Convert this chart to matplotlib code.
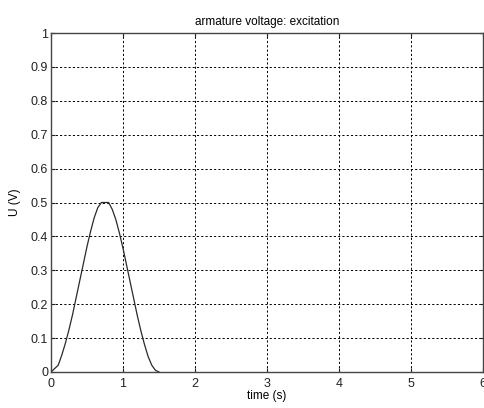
import matplotlib
matplotlib.use("Agg")
import matplotlib.pyplot as plt

# sampled excitation pulse on the armature
time_s = [0.0, 0.1, 0.15, 0.2, 0.25, 0.3, 0.35, 0.4, 0.45, 0.5,
          0.55, 0.6, 0.65, 0.7, 0.75, 0.8, 0.85, 0.9, 0.95, 1.0,
          1.05, 1.1, 1.15, 1.2, 1.25, 1.3, 1.35, 1.4, 1.45, 1.5]
voltage = [0.0, 0.02, 0.05, 0.085, 0.125, 0.17, 0.22, 0.27, 0.32, 0.37,
           0.415, 0.455, 0.485, 0.5, 0.5, 0.5, 0.48, 0.45, 0.41, 0.365,
           0.315, 0.265, 0.215, 0.165, 0.12, 0.08, 0.045, 0.02, 0.005, 0.0]

x_ticks = [0, 1, 2, 3, 4, 5, 6]
y_ticks = [0, 0.1, 0.2, 0.3, 0.4, 0.5, 0.6, 0.7, 0.8, 0.9, 1]
y_labels = ["0", "0.1", "0.2", "0.3", "0.4", "0.5", "0.6", "0.7", "0.8", "0.9", "1"]

plt.rcParams["font.family"] = ["Liberation Sans", "DejaVu Sans"]
plt.rcParams["font.size"] = 9

fig = plt.figure(figsize=(4.84, 4.08), dpi=100)
ax = fig.add_axes([51 / 484, 36 / 408, 432 / 484, 339 / 408])

ax.plot(time_s, voltage, color="#2a2a2a", linewidth=0.9)

ax.set_xlim(0, 6)
ax.set_ylim(0, 1)
ax.set_xticks(x_ticks)
ax.set_yticks(y_ticks)
ax.set_yticklabels(y_labels)
ax.grid(True, color="black", linestyle=(0, (2.2, 2.2)), linewidth=0.7)
ax.tick_params(direction="in", length=3, width=0.8, top=True, right=True,
               colors="#222222", pad=2)
ax.tick_params(axis="x", pad=4)
for s in ax.spines.values():
    s.set_color("#444444")
    s.set_linewidth(1.0)

ax.set_title("armature voltage: excitation", fontsize=8.5, pad=6)
ax.set_xlabel("time (s)", fontsize=8.5, labelpad=0)
ax.set_ylabel("U (V)", fontsize=8.5, labelpad=7)

fig.savefig("out.png", dpi=100)
